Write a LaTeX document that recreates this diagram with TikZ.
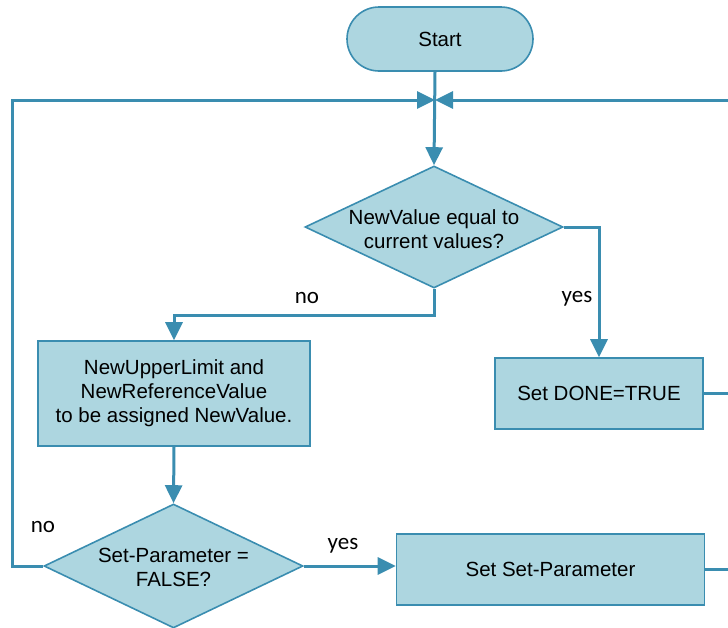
\documentclass[tikz,border=0pt]{standalone}
\usepackage{fontspec}
\setmainfont{Liberation Sans}
\newfontfamily\labelfont{Carlito}
\usetikzlibrary{shapes.geometric,arrows.meta}
\definecolor{boxfill}{RGB}{173,214,224}
\definecolor{flowline}{RGB}{58,141,176}

\begin{document}
\begin{tikzpicture}[x=1pt,y=-1pt,
  txt/.style={font=\fontsize{20.5}{24}\selectfont, align=center, inner sep=0pt},
  procbox/.style={draw=flowline, fill=boxfill, line width=1.6pt, rectangle, inner sep=0pt,
    align=center, font=\fontsize{20.5}{24}\selectfont},
  terminal/.style={procbox, rounded corners=32pt},
  decision/.style={draw=flowline, fill=boxfill, line width=1.6pt, diamond, inner sep=0pt},
  link/.style={draw=flowline, line width=3pt},
  flow/.style={link, -{Triangle[length=18pt,width=17pt]}},
  answer/.style={font=\labelfont\fontsize{23}{26}\selectfont, inner sep=0pt}
]
\useasboundingbox (0,0) rectangle (728,627);

% shapes
\node[terminal, minimum width=186pt, minimum height=64pt] (start) at (440,39) {Start};
\node[decision, minimum width=258pt, minimum height=122pt] (d1) at (434,227) {};
\node[txt] (d1text) at (434,229) {NewValue equal to\\current values?};
\node[procbox, minimum width=272pt, minimum height=105pt] (assign) at (174,393.5)
  {NewUpperLimit and\\NewReferenceValue\\to be assigned NewValue.};
\node[procbox, minimum width=208pt, minimum height=71pt] (done) at (599,393.5) {Set DONE=TRUE};
\node[decision, minimum width=259pt, minimum height=124pt] (d2) at (173.5,566) {};
\node[txt] (d2text) at (173.5,567) {Set-Parameter =\\FALSE?};
\node[procbox, minimum width=308pt, minimum height=71pt] (setp) at (550.5,569.5) {Set Set-Parameter};

% junction and loop corners
\coordinate (merge) at (435,100);
\coordinate (lefttop) at (12,100);
\coordinate (righttop) at (730,100);

% connectors
\draw[flow] (start.south -| merge) -- (d1.north);
\draw[flow] (d1.east) -| (done.north);
\draw[flow] (d1.south) -- ++(0,27) -| (assign.north);
\draw[flow] (assign.south) -- (d2.north);
\draw[flow] (d2.east) -- (d2.east -| setp.west);
\draw[flow] (d2.west) -| (lefttop) -- (merge);
\draw[link] (done.east) -| (righttop);
\draw[flow] (setp.east) -| (righttop) -- (merge);

% branch labels
\node[answer] (no1) at (307,298) {no};
\node[answer] (yes1) at (577,299) {yes};
\node[answer] (no2) at (43,527) {no};
\node[answer] (yes2) at (343,546) {yes};
\end{tikzpicture}
\end{document}
